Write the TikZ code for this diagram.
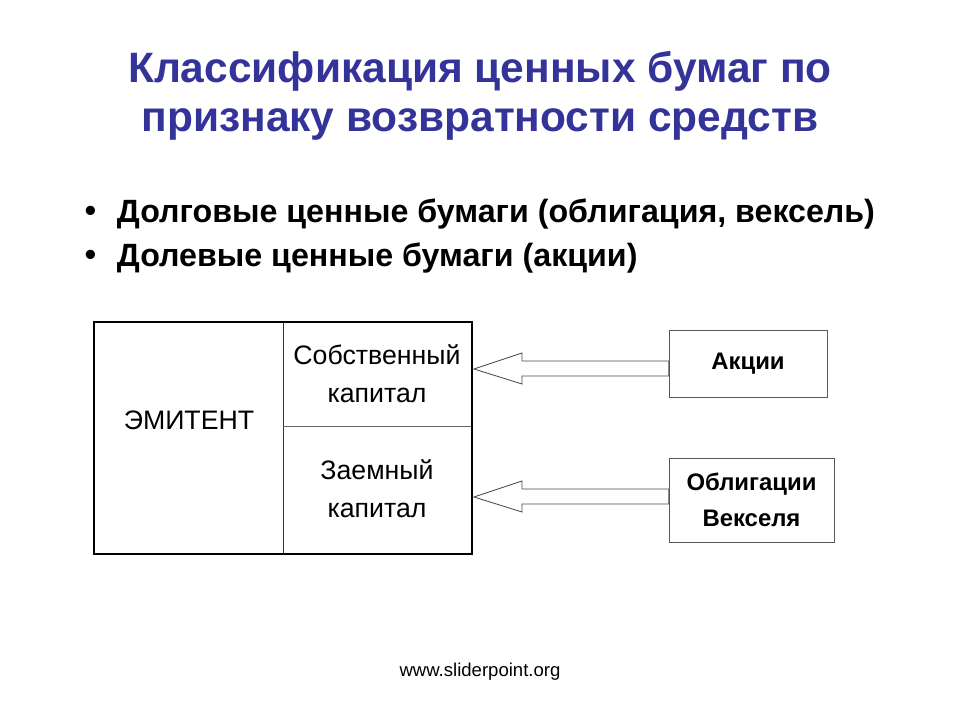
\documentclass[tikz,border=0pt]{standalone}
\usepackage{fontspec}
\setmainfont{Liberation Sans}
\usetikzlibrary{calc}
\definecolor{titleblue}{HTML}{333399}
\begin{document}
\begin{tikzpicture}[x=0.025cm,y=-0.025cm,
                    title node/.style={text=titleblue,font=\bfseries\fontsize{30.2}{34}\selectfont,align=center},
                    bullet node/.style={font=\bfseries\fontsize{22.9}{26}\selectfont,anchor=west},
                    cell node/.style={font=\fontsize{19}{27}\selectfont,align=center},
                    paper node/.style={draw=black!65,font=\bfseries\fontsize{17}{25.6}\selectfont,align=center,inner sep=0pt},
                    hollow/.style={draw=black!70,fill=white,line width=0.6pt}]
  \useasboundingbox (0,0) rectangle (960,720);
  % title and bullets
  \node[title node] (title1) at (480,71) {Классификация ценных бумаг по};
  \node[title node] (title2) at (480,124) {признаку возвратности средств};
  \node[bullet node] (dot1) at (80,214) {•};
  \node[bullet node] (b1) at (112,214) {Долговые ценные бумаги (облигация, вексель)};
  \node[bullet node] (dot2) at (80,258) {•};
  \node[bullet node] (b2) at (112,258) {Долевые ценные бумаги (акции)};
  % issuer table
  \coordinate (nw) at (94,322);
  \coordinate (se) at (472,554);
  \draw[black!80,line width=0.6pt] (283,322) -- (283,554);
  \draw[black!60,line width=0.6pt] (283,426) -- (472,426);
  \draw[line width=2pt] (nw) rectangle (se);
  \node[cell node] (emit) at (189,420) {ЭМИТЕНТ};
  \node[cell node] (own) at (377,374) {Собственный\\капитал};
  \node[cell node] (loan) at (377,489) {Заемный\\капитал};
  \coordinate (own in) at (474,369);
  \coordinate (loan in) at (474,497);
  % securities
  \node[paper node,text width=158*0.025cm,minimum height=67*0.025cm] (shares) at (748,363.5) {Акции};
  \node[paper node,text width=165*0.025cm,minimum height=84*0.025cm] (bonds) at (751.5,500) {Облигации\\Векселя};
  % hollow arrows
  \foreach \src/\dst in {shares/own in,bonds/loan in}
    \draw[hollow] (\dst) -- ++(48,-16) -- ++(0,8) -- ($(\src.west |- \dst)+(0,-8)$)
                  -- ($(\src.west |- \dst)+(0,7)$) -- ($(\dst)+(48,7)$) -- ++(0,8) -- cycle;
  % footer
  \node[font=\fontsize{13.2}{16}\selectfont] (site) at (480,672) {www.sliderpoint.org};
\end{tikzpicture}
\end{document}
